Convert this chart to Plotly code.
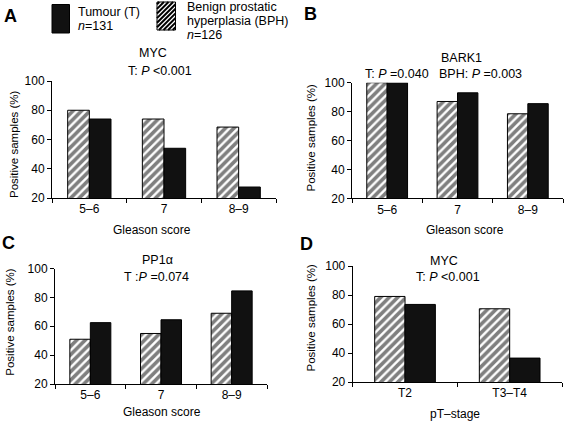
import plotly.graph_objects as go

W, H = 564, 421

# ---------------- data ----------------
gleason_cats = ["5–6", "7", "8–9"]
stage_cats = ["T2", "T3–T4"]

myc_gleason_bph = [80, 74, 68.5]
myc_gleason_tum = [74, 54, 27.5]

bark1_bph = [100, 87, 78.5]
bark1_tum = [100, 93, 85.5]

pp1a_bph = [51, 55, 69]
pp1a_tum = [62.5, 64.5, 84.5]

myc_stage_bph = [79, 70.5]
myc_stage_tum = [73.5, 36.5]

y_ticks = [20, 40, 60, 80, 100]

FONT = "Liberation Sans, Arial, Helvetica, sans-serif"
NB = "\u00a0"


def px(x):
    return x / W


def py(y):
    return 1 - y / H


panels = [
    ("", gleason_cats, myc_gleason_bph, myc_gleason_tum, (52, 276), (81, 198)),
    ("2", gleason_cats, bark1_bph, bark1_tum, (352, 563), (82.7, 198.3)),
    ("3", gleason_cats, pp1a_bph, pp1a_tum, (55, 267), (268.5, 384)),
    ("4", stage_cats, myc_stage_bph, myc_stage_tum, (352.7, 562), (266, 382)),
]

fig = go.Figure()
layout_axes = {}
for suf, cats, bph, tum, (x0, x1), (ytop, ybot) in panels:
    xa = "x" + suf
    ya = "y" + suf
    fig.add_trace(go.Bar(
        x=cats, y=bph, xaxis=xa, yaxis=ya, showlegend=False, hoverinfo="skip",
        marker=dict(color="white", line=dict(color="black", width=1),
                    pattern=dict(shape="/", fgcolor="black", bgcolor="white",
                                 size=6, solidity=0.6)),
    ))
    fig.add_trace(go.Bar(
        x=cats, y=tum, xaxis=xa, yaxis=ya, showlegend=False, hoverinfo="skip",
        marker=dict(color="#111111", line=dict(color="black", width=1)),
    ))
    layout_axes["xaxis" + suf] = dict(
        domain=[px(x0), px(x1)], anchor=ya, type="category", automargin=False,
        showline=True, linecolor="black", linewidth=1,
        ticks="outside", tickson="boundaries", ticklen=4, tickcolor="black",
        showgrid=False, zeroline=False,
        tickfont=dict(size=12, color="black", family=FONT),
    )
    layout_axes["yaxis" + suf] = dict(
        domain=[py(ybot), py(ytop)], anchor=xa, range=[20, 100], automargin=False,
        tickvals=y_ticks, showline=True, linecolor="black", linewidth=1,
        ticks="outside", ticklen=4, tickcolor="black",
        showgrid=False, zeroline=False,
        tickfont=dict(size=12, color="black", family=FONT),
    )

ann = []


def txt(text, x, y, size=12.5, xanchor="center", angle=0, bold=False):
    if bold:
        text = "<b>" + text + "</b>"
    ann.append(dict(text=text, x=px(x), y=py(y), xref="paper", yref="paper",
                    xanchor=xanchor, yanchor="middle", showarrow=False,
                    textangle=angle,
                    font=dict(size=size, color="black", family=FONT)))


# panel letters
txt("A", 10, 16, 18, bold=True)
txt("B", 310, 14, 18, bold=True)
txt("C", 8.5, 242.5, 18, bold=True)
txt("D", 306, 244, 18, bold=True)

# titles
txt("MYC", 152.5, 53.3)
txt("T:" + NB + "<i>P</i>" + NB + "&lt;0.001", 160, 71.3)
txt("BARK1", 461.7, 57.5)
txt("T:" + NB + "<i>P</i>" + NB + "=0.040" + NB * 3 + "BPH:" + NB + "<i>P</i>" + NB + "=0.003",
    443, 74)
txt("PP1α", 157.5, 259.5)
txt("T" + NB + ":" + "<i>P</i>" + NB + "=0.074", 156.7, 277)
txt("MYC", 444, 261)
txt("T:" + NB + "<i>P</i>" + NB + "&lt;0.001", 448, 277)

# axis titles
for (x, y) in [(14, 144), (310, 137.5), (10, 321.7), (310, 317.5)]:
    txt("Positive samples (%)", x, y, 11.5, angle=-90)
txt("Gleason score", 151.7, 230, 12)
txt("Gleason score", 464.8, 230, 12)
txt("Gleason score", 161.7, 412, 12)
txt("pT–stage", 454.5, 414, 12)

# legend text
txt("Tumour (T)", 76, 12.5, xanchor="left")
txt("<i>n</i>=131", 76, 26.5, xanchor="left")
txt("Benign prostatic", 185, 7.5, xanchor="left")
txt("hyperplasia (BPH)", 185, 21.5, xanchor="left")
txt("<i>n</i>=126", 185, 35.5, xanchor="left")

shapes = []
shapes.append(dict(type="rect", xref="paper", yref="paper",
                   x0=px(52), x1=px(69.5), y0=py(33), y1=py(4.5),
                   fillcolor="#111111", line=dict(color="black", width=1)))
hx0, hx1, hy0, hy1 = 157, 175.5, 2, 30
shapes.append(dict(type="rect", xref="paper", yref="paper",
                   x0=px(hx0), x1=px(hx1), y0=py(hy1), y1=py(hy0),
                   fillcolor="white", line=dict(color="black", width=1)))
step = 4.6
path = ""
c = hx0 + hy0 + step / 2
while c < hx1 + hy1:
    lo = max(hx0, c - hy1)
    hi = min(hx1, c - hy0)
    if hi > lo:
        path += f"M{px(lo)},{py(c - lo)} L{px(hi)},{py(c - hi)} "
    c += step
shapes.append(dict(type="path", xref="paper", yref="paper", path=path,
                   line=dict(color="black", width=2)))

fig.update_layout(
    width=W, height=H, margin=dict(l=0, r=0, t=0, b=0, autoexpand=False),
    paper_bgcolor="white", plot_bgcolor="white",
    barmode="group", bargap=0.42, bargroupgap=0,
    font=dict(family=FONT, color="black"),
    annotations=ann, shapes=shapes, hovermode=False,
    **layout_axes,
)

fig.write_html(
    "out.html",
    config={"displayModeBar": False, "staticPlot": True},
    post_script="document.body.style.margin='0px';document.body.style.padding='0px';"
                "document.body.style.overflow='hidden';",
)
